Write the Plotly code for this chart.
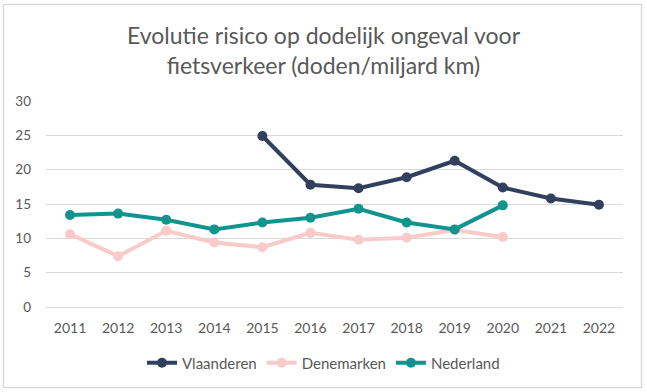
import plotly.graph_objects as go

years = ["2011", "2012", "2013", "2014", "2015", "2016", "2017", "2018", "2019", "2020", "2021", "2022"]
vlaanderen = [None, None, None, None, 24.9, 17.8, 17.3, 18.9, 21.3, 17.4, 15.8, 14.9]
denemarken = [10.6, 7.4, 11.1, 9.4, 8.7, 10.8, 9.8, 10.1, 11.2, 10.2, None, None]
nederland = [13.4, 13.6, 12.7, 11.3, 12.3, 13.0, 14.3, 12.3, 11.3, 14.8, None, None]
y_ticks = [0, 5, 10, 15, 20, 25, 30]

W, H = 647, 392
L, R, T, B = 46, 24, 101, 85

fig = go.Figure()
for name, vals, col in [("Vlaanderen", vlaanderen, "#323F5F"),
                        ("Denemarken", denemarken, "#F9CACA"),
                        ("Nederland", nederland, "#12948E")]:
    fig.add_trace(go.Scatter(x=years, y=vals, name=name, mode="lines+markers",
                             line=dict(color=col, width=4),
                             marker=dict(color=col, size=10),
                             connectgaps=False))

def px_to_paper_x(px):
    return (px - L) / (W - L - R)

def px_to_paper_y(py):
    return (H - B - py) / (H - T - B)

fig.add_shape(type="rect", xref="paper", yref="paper",
              x0=px_to_paper_x(3.5), x1=px_to_paper_x(641.5),
              y0=px_to_paper_y(387.5), y1=px_to_paper_y(4.5),
              line=dict(color="#D9D9D9", width=1.5), layer="below")

FONT = "Lato, 'Open Sans', sans-serif"
fig.update_layout(
    width=W, height=H,
    margin=dict(l=L, r=R, t=T, b=B, autoexpand=False),
    paper_bgcolor="white", plot_bgcolor="white",
    font=dict(family=FONT, color="#595959"),
    title=dict(text="Evolutie risico op dodelijk ongeval voor<br>fietsverkeer (doden/miljard km)",
               x=0.5, xanchor="center", y=1 - 44 / H, yanchor="top",
               font=dict(size=23, color="#595959", family=FONT)),
    showlegend=True,
    legend=dict(orientation="h", x=px_to_paper_x(323.5), xanchor="center",
                y=px_to_paper_y(363), yanchor="middle",
                font=dict(size=15, color="#595959"), itemwidth=30,
                tracegroupgap=0),
    xaxis=dict(type="category", showgrid=False, showline=True, linecolor="#D9D9D9",
               linewidth=1, ticks="", tickfont=dict(size=14, color="#595959"),
               range=[-0.5, 11.5], zeroline=False, ticklabelstandoff=8),
    yaxis=dict(range=[0, 30], tickvals=y_ticks, showgrid=True, gridcolor="#D9D9D9",
               gridwidth=1, zeroline=False, showline=False, ticks="",
               tickfont=dict(size=13.5, color="#595959"), ticklabelstandoff=14),
)

fig.write_html("out.html", config={"displayModeBar": False},
               post_script="document.body.style.margin='0';document.body.style.padding='0';document.documentElement.style.overflow='hidden';")
